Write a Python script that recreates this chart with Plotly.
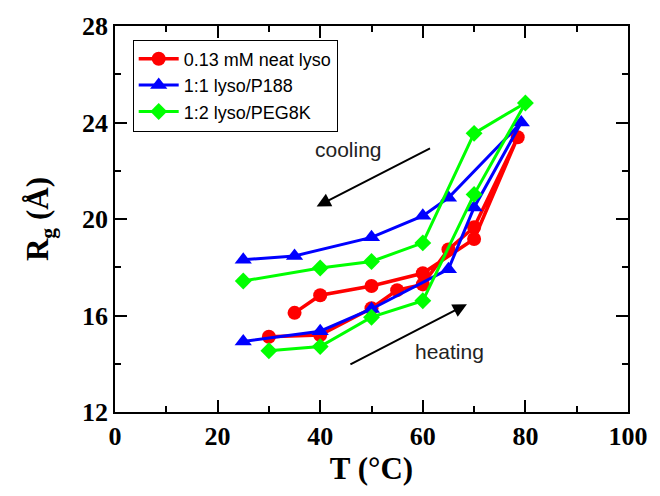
import plotly.graph_objects as go

# Data: each series is a heating sweep followed by a cooling sweep
red_T = [30, 40, 50, 55, 60, 65, 70, 78.5, 70, 60, 50, 40, 35]
red_R = [15.12, 15.19, 16.3, 17.05, 17.29, 18.74, 19.66, 23.39, 19.17, 17.75, 17.22, 16.84, 16.11]

blue_T = [25, 40, 50, 65, 70, 79.2, 65, 60, 50, 35, 25]
blue_R = [14.92, 15.35, 16.27, 17.92, 20.48, 24.0, 20.88, 20.13, 19.24, 18.47, 18.31]

green_T = [30, 40, 50, 60, 70, 80, 70, 60, 50, 40, 25]
green_R = [14.54, 14.71, 15.93, 16.61, 21.02, 24.81, 23.55, 19.01, 18.24, 17.97, 17.43]

names = ["0.13 mM neat lyso", "1:1 lyso/P188", "1:2 lyso/PEG8K"]

fig = go.Figure()
fig.add_trace(go.Scatter(x=red_T, y=red_R, name=names[0], mode="lines+markers",
                         line=dict(color="#ff0000", width=3.5),
                         marker=dict(symbol="circle", size=14, color="#ff0000")))
fig.add_trace(go.Scatter(x=blue_T, y=blue_R, name=names[1], mode="lines+markers",
                         line=dict(color="#0000ff", width=3),
                         marker=dict(symbol="triangle-up", size=15, color="#0000ff")))
fig.add_trace(go.Scatter(x=green_T, y=green_R, name=names[2], mode="lines+markers",
                         line=dict(color="#00ff00", width=3),
                         marker=dict(symbol="diamond", size=13, color="#00ff00")))

# arrows
fig.add_annotation(x=39.3, y=20.52, ax=61.7, ay=22.96, xref="x", yref="y", axref="x", ayref="y",
                   showarrow=True, arrowhead=2, arrowsize=1.4, arrowwidth=2, arrowcolor="black", text="")
fig.add_annotation(x=68.6, y=16.47, ax=45.6, ay=13.94, xref="x", yref="y", axref="x", ayref="y",
                   showarrow=True, arrowhead=2, arrowsize=1.4, arrowwidth=2, arrowcolor="black", text="")
fig.add_annotation(x=45.6, y=22.89, text="cooling", showarrow=False,
                   font=dict(family="Liberation Sans", size=21, color="#222"))
fig.add_annotation(x=65.3, y=14.51, text="heating", showarrow=False,
                   font=dict(family="Liberation Sans", size=21, color="#222"))

axis_common = dict(showline=True, linecolor="black", linewidth=1.5, mirror="ticks",
                   ticks="inside", ticklen=12, tickwidth=1.5, tickcolor="black",
                   showgrid=False, zeroline=False,
                   tickfont=dict(family="Liberation Serif", size=26, color="black"))

fig.update_xaxes(range=[0, 100], tickmode="linear", tick0=0, dtick=20,
                 minor=dict(ticks="inside", ticklen=6, tickwidth=1.5, tickcolor="black", dtick=10),
                 title=dict(text="<b>T (°C)</b>", font=dict(family="Liberation Serif", size=31, color="black"), standoff=6),
                 tickprefix="<b>", ticksuffix="</b>", **axis_common)
fig.update_yaxes(range=[12, 28], tickmode="linear", tick0=12, dtick=4,
                 minor=dict(ticks="inside", ticklen=6, tickwidth=1.5, tickcolor="black", dtick=2),
                 title=dict(text="<b>R<sub>g</sub> (Å)</b>", font=dict(family="Liberation Serif", size=31, color="black"), standoff=24),
                 tickprefix="<b>", ticksuffix="</b>", **axis_common)

fig.update_layout(width=660, height=496, margin=dict(l=115, r=24, t=18, b=84),
                  plot_bgcolor="white", paper_bgcolor="white",
                  legend=dict(x=0.0345, y=0.965, xanchor="left", yanchor="top",
                              bordercolor="black", borderwidth=1, bgcolor="white",
                              font=dict(family="Liberation Sans", size=18, color="black"),
                              tracegroupgap=0, itemwidth=40))

fig.write_html("out.html")
